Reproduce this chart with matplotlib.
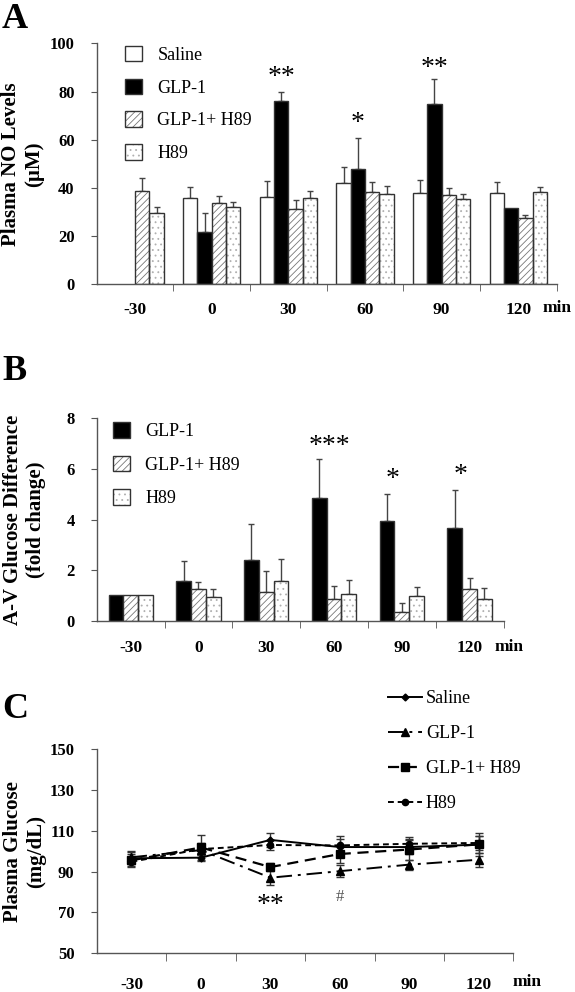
import numpy as np
import matplotlib.pyplot as plt
from matplotlib.patches import Patch
from matplotlib.legend_handler import HandlerTuple

plt.rcParams['font.family'] = 'Liberation Serif'
plt.rcParams['hatch.linewidth'] = 0.6

times = ['-30', '0', '30', '60', '90', '120']

# Panel A: plasma NO levels (uM) with upper SEM
no_saline = [np.nan, 35.7, 36.1, 41.9, 38.0, 37.8]
no_saline_err = [np.nan, 4.8, 6.8, 6.9, 5.3, 4.8]
no_glp1 = [np.nan, 21.9, 75.9, 47.9, 74.7, 31.7]
no_glp1_err = [np.nan, 7.6, 3.9, 12.7, 10.4, 0.0]
no_glp1_h89 = [38.9, 33.6, 31.3, 38.5, 37.2, 27.4]
no_glp1_h89_err = [5.4, 3.2, 3.7, 4.1, 2.6, 1.4]
no_h89 = [29.5, 32.2, 35.7, 37.3, 35.5, 38.5]
no_h89_err = [2.5, 2.1, 2.9, 3.6, 2.1, 1.9]

# Panel B: A-V glucose difference (fold change)
av_glp1 = [1.0, 1.58, 2.41, 4.87, 3.94, 3.68]
av_glp1_err = [0.0, 0.79, 1.40, 1.51, 1.07, 1.50]
av_glp1_h89 = [1.0, 1.24, 1.12, 0.84, 0.36, 1.24]
av_glp1_h89_err = [0.0, 0.28, 0.84, 0.52, 0.33, 0.43]
av_h89 = [1.0, 0.95, 1.57, 1.04, 0.97, 0.84]
av_h89_err = [0.0, 0.29, 0.85, 0.55, 0.35, 0.44]

# Panel C: plasma glucose (mg/dL)
glu_saline = [96.5, 96.8, 105.5, 102.0, 102.0, 103.2]
glu_saline_err = [3.0, 1.5, 3.5, 4.0, 3.5, 4.0]
glu_glp1 = [97.0, 100.5, 87.0, 90.2, 93.4, 95.8]
glu_glp1_err = [3.0, 2.0, 3.6, 2.8, 2.5, 3.4]
glu_glp1_h89 = [95.5, 101.8, 92.2, 98.6, 100.8, 103.3]
glu_glp1_h89_err = [3.0, 6.0, 2.0, 4.5, 5.0, 5.5]
glu_h89 = [94.8, 101.0, 103.0, 102.8, 103.6, 104.0]
glu_h89_err = [2.5, 3.0, 2.5, 4.5, 3.5, 3.5]

EDGE = '#333333'
AXC = '#555555'

STYLES = {
    'Saline': dict(color='white', hatch=None, hcol=None),
    'GLP-1': dict(color='black', hatch=None, hcol=None),
    'GLP-1+ H89': dict(color='white', hatch='/////', hcol='#777777'),
    'H89': dict(color='white', hatch='...', hcol='#b0b0b0'),
}


def draw_bars(ax, x, vals, errs, name, w):
    st = STYLES[name]
    vals = np.array(vals, dtype=float)
    errs = np.array(errs, dtype=float)
    if st['hatch']:
        ax.bar(x, vals, w, color='white', edgecolor=st['hcol'], hatch=st['hatch'], linewidth=0, zorder=2)
        ax.bar(x, vals, w, fill=False, edgecolor=EDGE, linewidth=1, zorder=3)
    else:
        ax.bar(x, vals, w, color=st['color'], edgecolor=EDGE, linewidth=1, zorder=2)
    ok = ~np.isnan(vals) & (np.nan_to_num(errs) > 0)
    ax.errorbar(x[ok], vals[ok], yerr=[np.zeros(ok.sum()), errs[ok]], fmt='none',
                ecolor='#444444', elinewidth=1, capsize=2.5, capthick=1, zorder=1)


def handle(name):
    st = STYLES[name]
    if st['hatch']:
        return (Patch(facecolor='white', edgecolor=st['hcol'], hatch=st['hatch'], linewidth=0),
                Patch(fill=False, edgecolor=EDGE, linewidth=1))
    return Patch(facecolor=st['color'], edgecolor=EDGE, linewidth=1)


def style_axis(ax, ymin, ymax, yticks, xpad, min_xy):
    ax.set_xlim(0, 6)
    ax.set_ylim(ymin, ymax)
    for s in ['top', 'right']:
        ax.spines[s].set_visible(False)
    for s in ['left', 'bottom']:
        ax.spines[s].set_color(AXC)
        ax.spines[s].set_linewidth(1)
    ax.set_yticks(yticks)
    ax.set_xticks(np.arange(6) + 0.5)
    ax.set_xticklabels(times)
    ax.set_xticks(np.arange(1, 7), minor=True)
    ax.tick_params(axis='x', which='major', length=0, pad=xpad)
    ax.tick_params(axis='x', which='minor', length=5, color=AXC, direction='out')
    ax.tick_params(axis='y', length=4, color=AXC, pad=12)
    for lab in ax.get_xticklabels():
        lab.set_fontweight('bold')
        lab.set_fontsize(12.5)
    for lab in ax.get_yticklabels():
        lab.set_fontweight('bold')
        lab.set_fontsize(12)
    ax.text(min_xy[0], min_xy[1], 'min', transform=ax.transAxes, fontsize=12.5, fontweight='bold',
            ha='left', va='center')


fig = plt.figure(figsize=(5.75, 9.92), dpi=100)
axA = fig.add_axes([0.1683, 0.7134, 0.7997, 0.2429])
axB = fig.add_axes([0.1683, 0.3743, 0.7074, 0.2040])
axC = fig.add_axes([0.1683, 0.0390, 0.7246, 0.2060])

centers = np.arange(6) + 0.5
tuple_map = {tuple: HandlerTuple(ndivide=1, pad=0)}

# ---- A ----
wA = 0.187
seriesA = [('Saline', no_saline, no_saline_err), ('GLP-1', no_glp1, no_glp1_err),
           ('GLP-1+ H89', no_glp1_h89, no_glp1_h89_err), ('H89', no_h89, no_h89_err)]
for k, (name, v, e) in enumerate(seriesA):
    draw_bars(axA, centers + (k - 1.5) * wA, v, e, name, wA)
style_axis(axA, 0, 100, [0, 20, 40, 60, 80, 100], 13, (0.970, -0.098))
axA.set_ylabel('Plasma NO Levels\n(µM)', fontsize=15, fontweight='bold')
axA.yaxis.set_label_coords(-0.115, 0.5)
axA.text(centers[2] - 0.5 * wA, 86, '**', fontsize=20, ha='center', va='center')
axA.text(centers[3] - 0.5 * wA, 66.6, '*', fontsize=20, ha='center', va='center')
axA.text(centers[4] - 0.5 * wA, 89.4, '**', fontsize=20, ha='center', va='center')
axA.legend([handle(n) for n, _, _ in seriesA], [n for n, _, _ in seriesA],
           handler_map=tuple_map,
           loc='upper left', bbox_to_anchor=(0.061, 0.99), frameon=False, fontsize=13,
           handlelength=0.95, handleheight=0.95, handletextpad=0.85, labelspacing=0.82,
           borderpad=0, borderaxespad=0)

# ---- B ----
wB = 0.218
seriesB = [('GLP-1', av_glp1, av_glp1_err), ('GLP-1+ H89', av_glp1_h89, av_glp1_h89_err),
           ('H89', av_h89, av_h89_err)]
for k, (name, v, e) in enumerate(seriesB):
    draw_bars(axB, centers + (k - 1) * wB, v, e, name, wB)
style_axis(axB, 0, 8, [0, 2, 4, 6, 8], 14, (0.979, -0.128))
axB.set_ylabel('A-V Glucose Difference\n(fold change)', fontsize=15, fontweight='bold')
axB.yaxis.set_label_coords(-0.125, 0.5)
axB.text(centers[3] - 0.3 * wB, 6.9, '***', fontsize=20, ha='center', va='center')
axB.text(centers[4] - 0.6 * wB, 5.57, '*', fontsize=20, ha='center', va='center')
axB.text(centers[5] - 0.6 * wB, 5.73, '*', fontsize=20, ha='center', va='center')
axB.legend([handle(n) for n, _, _ in seriesB], [n for n, _, _ in seriesB],
           handler_map=tuple_map,
           loc='upper left', bbox_to_anchor=(0.039, 0.98), frameon=False, fontsize=13,
           handlelength=0.95, handleheight=0.95, handletextpad=0.85, labelspacing=0.85,
           borderpad=0, borderaxespad=0)

# ---- C ----
seriesC = [('Saline', glu_saline, glu_saline_err, '-', 'D', 3.5, 1.4),
           ('GLP-1', glu_glp1, glu_glp1_err, (0, (8, 3, 1.5, 3)), '^', 6, 1.4),
           ('GLP-1+ H89', glu_glp1_h89, glu_glp1_h89_err, (0, (5, 3)), 's', 6, 1.6),
           ('H89', glu_h89, glu_h89_err, (0, (3, 2)), 'o', 4.5, 1.4)]
handlesC = []
for name, v, e, ls, mk, ms, lw in seriesC:
    axC.errorbar(centers, v, yerr=e, fmt='none', ecolor='#333333', elinewidth=1,
                 capsize=3, capthick=1, zorder=2)
    ln, = axC.plot(centers, v, linestyle=ls, marker=mk, markersize=ms, color='black',
                   linewidth=lw, zorder=3)
    handlesC.append(ln)
style_axis(axC, 50, 150, [50, 70, 90, 110, 130, 150], 17, (0.999, -0.139))
axC.tick_params(axis='x', which='minor', length=6)
axC.set_ylabel('Plasma Glucose\n(mg/dL)', fontsize=15, fontweight='bold')
axC.yaxis.set_label_coords(-0.122, 0.5)
axC.text(centers[2], 73.5, '**', fontsize=20, ha='center', va='center')
axC.text(centers[3], 77.7, '#', fontsize=12, ha='center', va='center', color='#555555')
fig.legend(handlesC, [s[0] for s in seriesC], loc='upper left',
           bbox_to_anchor=(388 / 575, 1 - 690 / 992), frameon=False, fontsize=13,
           handlelength=1.9, handletextpad=0.2, labelspacing=1.0, borderpad=0,
           borderaxespad=0)

# panel letters
for lab, ypx in [('A', 20), ('B', 372), ('C', 710)]:
    fig.text(2 / 575, 1 - ypx / 992, lab, fontsize=26, fontweight='bold', ha='left', va='center')

fig.savefig('out.png', dpi=100)
